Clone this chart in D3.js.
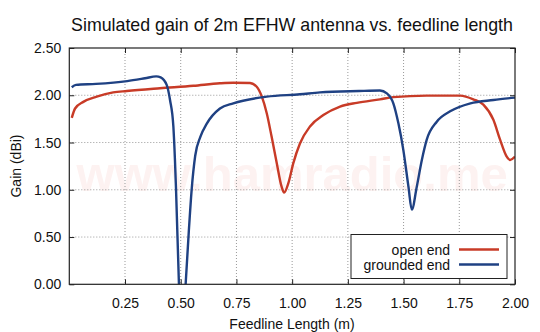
<!DOCTYPE html>
<html><head><meta charset="utf-8">
<script src="https://cdn.jsdelivr.net/npm/d3@7"></script>
<style>
html,body{margin:0;padding:0;background:#fff;}
text{font-family:"Liberation Sans",Arial,Helvetica,sans-serif;fill:#111;}
</style></head>
<body><svg id="c" width="540" height="332"></svg>
<script>
const title = "Simulated gain of 2m EFHW antenna vs. feedline length";
const xLabel = "Feedline Length (m)";
const yLabel = "Gain (dBi)";
const xTicks = [0.25,0.5,0.75,1.0,1.25,1.5,1.75,2.0];
const yTicks = [0,0.5,1.0,1.5,2.0,2.5];
const seriesNames = ["open end","grounded end"];
const seriesColors = ["#c83b27","#1f4183"];

const openLen  = [0.011,0.026,0.063,0.123,0.197,0.258,0.407,0.557,0.676,0.736,0.811,0.841,0.864,0.886,0.908,0.931,0.953,0.964,0.983,1.005,1.035,1.08,1.14,1.215,1.29,1.394,1.454,1.604,1.754,1.813,1.858,1.903,1.933,1.963,1.978,2.0];
const openGain = [1.76,1.86,1.93,1.985,2.03,2.045,2.074,2.10,2.127,2.133,2.13,2.09,1.985,1.81,1.56,1.28,1.03,0.97,1.07,1.28,1.49,1.67,1.79,1.88,1.92,1.957,1.98,1.996,1.996,1.957,1.90,1.74,1.53,1.35,1.315,1.35];

const gndLen  = [0.011,0.03,0.12,0.26,0.34,0.39,0.41,0.437,0.452,0.467,0.474,0.479,0.492,0.505,0.522,0.536,0.549,0.565,0.588,0.617,0.676,0.736,0.886,1.035,1.125,1.30,1.394,1.425,1.454,1.477,1.499,1.522,1.537,1.559,1.582,1.604,1.649,1.709,1.80,1.903,2.0];
const gndGain = [2.085,2.11,2.12,2.15,2.18,2.20,2.19,2.11,1.95,1.67,1.32,1.0,0.0,-0.8,0.0,0.55,1.0,1.36,1.56,1.70,1.86,1.915,1.985,2.01,2.03,2.045,2.05,2.02,1.915,1.70,1.42,1.03,0.79,1.03,1.315,1.53,1.72,1.83,1.915,1.95,1.975];

const W=540,H=332;
const m={l:69.3,r:515,t:48,b:284.3};
const svg=d3.select("#c");
const x=d3.scaleLinear().domain([0,2]).range([m.l,m.r]);
const y=d3.scaleLinear().domain([0,2.5]).range([m.b,m.t]);

// watermark
svg.append("text").attr("x",(m.l+m.r)/2).attr("y",191).attr("text-anchor","middle")
  .style("font-size","49px").style("font-weight","bold").style("fill","#fdf2f1").text("www.hamradio.me");

// grid
const g=svg.append("g");
g.selectAll("line.gx").data(xTicks.filter(d=>d<2)).join("line")
  .attr("x1",d=>x(d)).attr("x2",d=>x(d)).attr("y1",m.t).attr("y2",m.b)
  .attr("stroke","#999").attr("stroke-width",1).attr("stroke-dasharray","1,2");
g.selectAll("line.gy").data(yTicks.filter(d=>d>0&&d<2.5)).join("line")
  .attr("x1",m.l).attr("x2",m.r).attr("y1",d=>y(d)).attr("y2",d=>y(d))
  .attr("stroke","#999").attr("stroke-width",1).attr("stroke-dasharray","1,2");

// curves
svg.append("clipPath").attr("id","clip").append("rect")
  .attr("x",m.l).attr("y",m.t).attr("width",m.r-m.l).attr("height",m.b-m.t);
const line=d3.line().x(d=>x(d[0])).y(d=>y(d[1])).curve(d3.curveMonotoneX);
const data=[d3.zip(openLen,openGain), d3.zip(gndLen,gndGain)];
svg.append("g").attr("clip-path","url(#clip)").selectAll("path").data(data).join("path")
  .attr("d",line).attr("fill","none").attr("stroke",(d,i)=>seriesColors[i]).attr("stroke-width",2.4)
  .attr("stroke-linejoin","round");

// axes
const ax=svg.append("g").attr("transform",`translate(0,${m.b})`)
  .call(d3.axisBottom(x).tickValues(xTicks).tickFormat(d3.format(".2f")).tickSizeInner(-5).tickSizeOuter(0).tickPadding(14));
const ay=svg.append("g").attr("transform",`translate(${m.l},0)`)
  .call(d3.axisLeft(y).tickValues(yTicks).tickFormat(d3.format(".2f")).tickSizeInner(-5).tickSizeOuter(0).tickPadding(8));
const axTop=svg.append("g").attr("transform",`translate(0,${m.t})`)
  .call(d3.axisTop(x).tickValues(xTicks).tickFormat("").tickSizeInner(-5).tickSizeOuter(0));
const ayR=svg.append("g").attr("transform",`translate(${m.r},0)`)
  .call(d3.axisRight(y).tickValues(yTicks).tickFormat("").tickSizeInner(-5).tickSizeOuter(0));
[ax,ay,axTop,ayR].forEach(a=>{a.select(".domain").remove();a.selectAll("line").attr("stroke","#222");
  a.selectAll("text").style("font-size","14px").style("font-family","Liberation Sans, Arial, sans-serif").attr("fill","#111");});
svg.append("rect").attr("x",m.l).attr("y",m.t).attr("width",m.r-m.l).attr("height",m.b-m.t)
  .attr("fill","none").attr("stroke","#222").attr("stroke-width",1.2);

// labels
svg.append("text").attr("x",292).attr("y",31).attr("text-anchor","middle").style("font-size","17.8px").text(title);
svg.append("text").attr("x",292).attr("y",328.5).attr("text-anchor","middle").style("font-size","14px").text(xLabel);
svg.append("text").attr("transform","translate(20.5,166) rotate(-90)").attr("text-anchor","middle").style("font-size","14px").text(yLabel);

// legend
const lg=svg.append("g");
lg.append("rect").attr("x",351).attr("y",234.5).attr("width",156).attr("height",44)
  .attr("fill","#fff").attr("stroke","#222").attr("stroke-width",1);
seriesNames.forEach((n,i)=>{
  const yy=249.5+i*15;
  lg.append("text").attr("x",450).attr("y",yy+5).attr("text-anchor","end").style("font-size","14px").text(n);
  lg.append("line").attr("x1",459).attr("x2",499).attr("y1",yy).attr("y2",yy)
    .attr("stroke",seriesColors[i]).attr("stroke-width",2.4);
});
</script></body></html>
